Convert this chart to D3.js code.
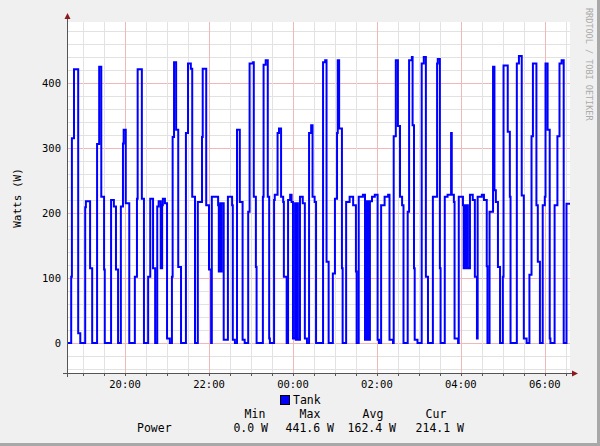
<!DOCTYPE html>
<html>
<head>
<meta charset="utf-8">
<script src="https://cdn.jsdelivr.net/npm/d3@7"></script>
<style>
  body { margin: 0; background: #fff; }
  svg text { font-family: "DejaVu Sans Mono", monospace; }
</style>
</head>
<body>
<svg id="chart" width="600" height="446"></svg>
<script>
// step points: minutes after 18:00, watts
var minutes = [37,43,44,47,53,56, 63,64,70,73, 80,83,86,90,91, 100,104,107,110,
  114,117,118,121,126, 134,137,138,144,147, 153,156,160,163,
  166,168,171,173,174,177,180,184, 187,188,190,193,196,200,
  207,210,214,216,220, 224,230,231,236,240,243,
  244,253,254,256,257,258,261,267,273,274,277, 280,284,288,291,
  296,298,303,304,307,308, 317,318,321,324,326,327,
  333,334,338,340,343,346,347,351,
  353,356,358,360,363,364,366,367,370,374,377,380,
  383,386,388,391,393, 403,406,408,411,
  417,420,423,424,426,430,431, 436,441,446,450,451,
  454,460,463,464,466,467,468,470,473,477,481,483,
  486,491,496,498,503, 504,507,510,513,516,518,
  524,526,530,531,533,534,538, 544,547,550,553,
  560,566,567,570,571, 577,581,586,587,590,591,596,
  597,603,604,606,607,608,610,613,617,620,623,624,630,633,637,638,
  641,646,648,650,653,656, 660,661,667,670,671,
  680,683,687,690,694, 698,701,703,707,708,710,713,
  717,720,721,724,727,728, 734,738,741,744,747,751,756];
var watts = [0,102,315,421,15,0, 209,218,115,0, 306,425,225,113,0, 220,210,113,0,
  210,307,328,215,0, 102,222,421,222,0, 102,222,115,0,
  210,218,115,212,222,215,7,0, 102,317,432,328,117,0,
  323,430,422,225,0, 217,317,422,212,113,0,
  225,212,110,215,110,215,5,225,212,5,0, 328,217,5,0,
  202,430,432,225,117,0, 225,428,435,225,7,0,
  220,228,323,330,225,217,102,0,
  220,228,217,7,215,5,215,5,225,215,7,0,
  323,335,225,217,0, 432,435,125,0,
  107,222,323,435,330,115,0, 217,225,212,110,0,
  225,228,5,218,5,218,5,218,225,228,5,0,
  212,225,228,5,0, 318,435,334,225,212,0,
  202,435,440,335,115,5,0, 430,440,102,0,
  225,430,437,115,0, 225,228,323,228,217,7,0,
  225,212,115,212,115,212,115,228,220,102,7,225,228,220,118,0,
  202,425,235,217,117,0, 102,427,325,225,0,
  430,441.6,227,7,0, 105,318,430,430,212,125,0,
  212,225,430,328,7,0, 212,318,430,435,0,214.1,214.1];
var yTicks = [0, 100, 200, 300, 400];
var xTickLabels = ["20:00", "22:00", "00:00", "02:00", "04:00", "06:00"];
var legendHeads = ["Min", "Max", "Avg", "Cur"];
var legendValues = ["0.0 W", "441.6 W", "162.4 W", "214.1 W"];

var base = new Date(2020, 0, 1, 18, 0);
function toDate(m) { return new Date(base.getTime() + m * 60000); }
var points = minutes.map(function(m, i) { return [toDate(m), watts[i]]; });

var svg = d3.select("#chart");
var pLeft = 67, pRight = 570, pTop = 22, pBottom = 373;

svg.append("rect").attr("width", 600).attr("height", 446).attr("fill", "#a8a8a8");
svg.append("rect").attr("width", 597).attr("height", 443).attr("fill", "#f0f0f0");
svg.append("rect").attr("x", pLeft).attr("y", pTop).attr("width", pRight - pLeft).attr("height", pBottom - pTop).attr("fill", "#fff");

var x = d3.scaleTime().domain([toDate(37), toDate(756)]).range([pLeft, pRight]);
var y = d3.scaleLinear().domain([(343 - pBottom) / 0.65, (343 - pTop) / 0.65]).range([pBottom, pTop]);

// grid
var g = svg.append("g");
g.selectAll(".hmin").data(d3.range(-40, 481, 20)).enter().append("line")
  .attr("x1", pLeft).attr("x2", pRight).attr("y1", function(d) { return Math.round(y(d)) + 0.5; })
  .attr("y2", function(d) { return Math.round(y(d)) + 0.5; })
  .attr("stroke", function(d) { return d % 100 === 0 ? "#f2b8b8" : "#e2e2e2"; });
g.selectAll(".vmin").data(d3.timeMinute.every(30).range(toDate(37), toDate(757))).enter().append("line")
  .attr("y1", pTop).attr("y2", pBottom)
  .attr("x1", function(d) { return Math.round(x(d)) + 0.5; })
  .attr("x2", function(d) { return Math.round(x(d)) + 0.5; })
  .attr("stroke", function(d) { return (d.getMinutes() === 0 && d.getHours() % 2 === 0) ? "#f2b8b8" : "#e2e2e2"; });

// series
var line = d3.line().x(function(d) { return x(d[0]); }).y(function(d) { return y(d[1]); }).curve(d3.curveStepAfter);
svg.append("path").datum(points).attr("d", line).attr("fill", "none")
  .attr("stroke", "#0000ff").attr("stroke-width", 2).attr("stroke-linejoin", "miter");

// axes
svg.append("line").attr("x1", pLeft + 0.5).attr("x2", pLeft + 0.5).attr("y1", 18).attr("y2", pBottom + 4).attr("stroke", "#555");
svg.append("line").attr("x1", pLeft - 4).attr("x2", 574).attr("y1", pBottom + 0.5).attr("y2", pBottom + 0.5).attr("stroke", "#555");
svg.append("path").attr("d", "M64.5,19 L70.5,19 L67.5,13 Z").attr("fill", "#8b1a1a");
svg.append("path").attr("d", "M572,370.5 L572,376.5 L578,373.5 Z").attr("fill", "#8b1a1a");

svg.selectAll(".xt").data(d3.timeMinute.every(30).range(toDate(37), toDate(757))).enter().append("line")
  .attr("x1", function(d) { return Math.round(x(d)) + 0.5; }).attr("x2", function(d) { return Math.round(x(d)) + 0.5; })
  .attr("y1", pBottom).attr("y2", pBottom + 3).attr("stroke", "#555");

svg.selectAll(".yl").data(yTicks).enter().append("text")
  .attr("x", 61).attr("y", function(d) { return y(d) + 4; })
  .attr("text-anchor", "end").attr("font-size", 10.5).attr("fill", "#000").text(function(d) { return d; });

var xMajor = d3.timeHour.every(2).range(toDate(38), toDate(756));
svg.selectAll(".xl").data(xMajor).enter().append("text")
  .attr("x", function(d) { return x(d); }).attr("y", 388)
  .attr("text-anchor", "middle").attr("font-size", 10.5).attr("fill", "#000")
  .text(function(d, i) { return xTickLabels[i]; });

svg.append("text").attr("transform", "translate(21,198) rotate(-90)").attr("text-anchor", "middle")
  .attr("font-size", 11).text("Watts (W)");
svg.append("text").attr("transform", "translate(586,8) rotate(90)").attr("text-anchor", "start")
  .attr("font-size", 8.5).attr("fill", "#aaa").text("RRDTOOL / TOBI OETIKER");

// legend
svg.append("rect").attr("x", 280.5).attr("y", 395.5).attr("width", 9).attr("height", 9)
  .attr("fill", "#0000ff").attr("stroke", "#000");
svg.append("text").attr("x", 293).attr("y", 404).attr("font-size", 11.5).text("Tank");
var headX = [255, 310, 373, 436];
var valEnd = [268, 334, 396, 464];
svg.selectAll(".lh").data(legendHeads).enter().append("text")
  .attr("x", function(d, i) { return headX[i]; }).attr("y", 418).attr("text-anchor", "middle")
  .attr("font-size", 11.5).text(function(d) { return d; });
svg.append("text").attr("x", 137).attr("y", 432).attr("font-size", 11.5).text("Power");
svg.selectAll(".lv").data(legendValues).enter().append("text")
  .attr("x", function(d, i) { return valEnd[i]; }).attr("y", 432).attr("text-anchor", "end")
  .attr("font-size", 11.5).text(function(d) { return d; });
</script>
</body>
</html>
